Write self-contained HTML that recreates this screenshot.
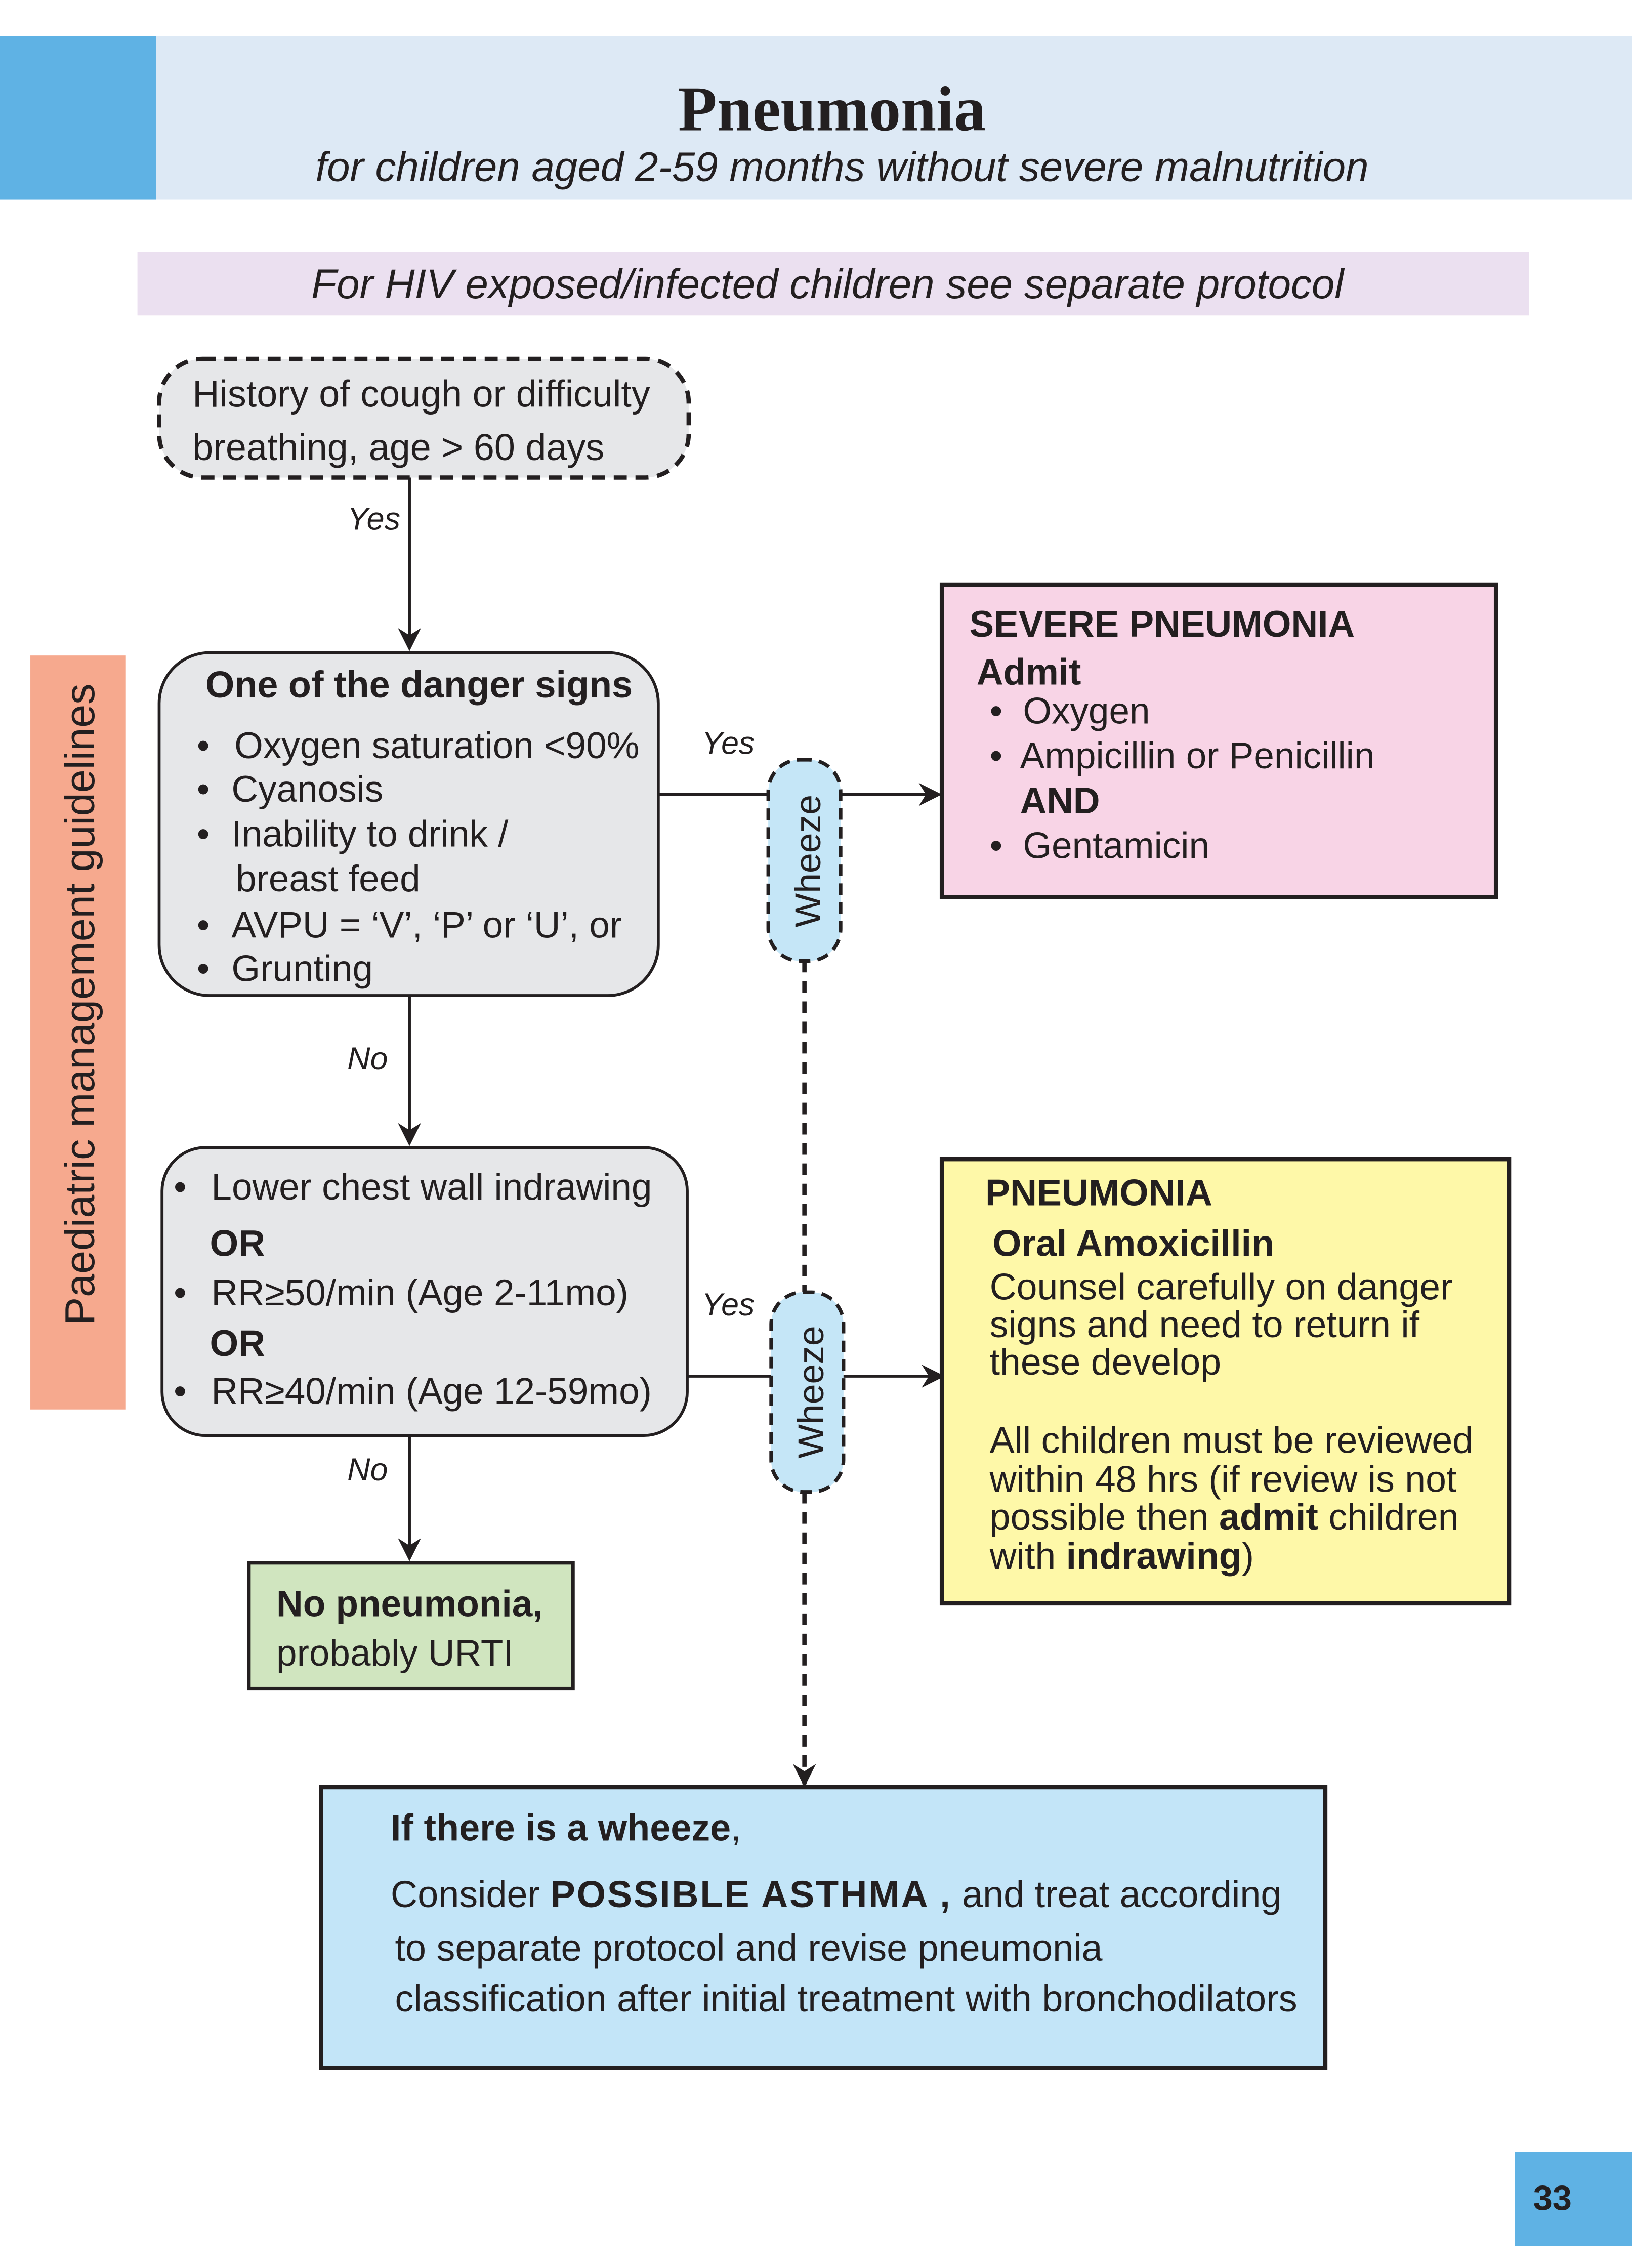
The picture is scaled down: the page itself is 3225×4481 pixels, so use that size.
<!DOCTYPE html>
<html><head><meta charset="utf-8"><style>
html,body{margin:0;padding:0;background:#fff}
svg{display:block}
text{font-family:"Liberation Sans",sans-serif;fill:#231f20}
.i{font-style:italic}
.b{font-weight:bold}
</style></head><body>
<svg width="3225" height="4481" viewBox="0 0 1128 1567.3" xmlns="http://www.w3.org/2000/svg">
<defs>
<marker id="a2" markerWidth="16" markerHeight="16" refX="14" refY="8" orient="auto" markerUnits="userSpaceOnUse"><path d="M0,0 L16,8 L0,16 L5,8 z" fill="#231f20"/></marker></defs>
<rect x="0" y="0" width="1128" height="1568" fill="#fff"/>
<rect x="0" y="25" width="1128" height="113" fill="#dde9f5"/>
<rect x="0" y="25" width="108" height="113" fill="#5fb2e4"/>
<text x="575" y="90" text-anchor="middle" font-size="44" class="b" style="font-family:'Liberation Serif',serif">Pneumonia</text>
<text x="582" y="125" text-anchor="middle" font-size="28.6" class="i">for children aged 2-59 months without severe malnutrition</text>
<rect x="95" y="174" width="962" height="44" fill="#ebe0f0"/>
<text x="572" y="206" text-anchor="middle" font-size="28.6" class="i">For HIV exposed/infected children see separate protocol</text>

<rect x="110" y="248" width="366" height="82" rx="30" fill="#e6e7e9" stroke="#231f20" stroke-width="3" stroke-dasharray="9,6"/>
<text x="133" y="281" font-size="25.8">History of cough or difficulty</text>
<text x="133" y="318" font-size="25.8">breathing, age &gt; 60 days</text>
<text x="240" y="366" font-size="22" class="i">Yes</text>
<line x1="283" y1="330" x2="283" y2="448" stroke="#231f20" stroke-width="2" marker-end="url(#a2)"/>

<rect x="110" y="451" width="345" height="237" rx="35" fill="#e6e7e9" stroke="#231f20" stroke-width="2"/>
<text x="142" y="482" font-size="25.8" class="b">One of the danger signs</text>
<g font-size="25.5">
<text x="136" y="524">•</text><text x="162" y="524">Oxygen saturation &lt;90%</text>
<text x="136" y="554">•</text><text x="160" y="554">Cyanosis</text>
<text x="136" y="585">•</text><text x="160" y="585">Inability to drink /</text>
<text x="163" y="616">breast feed</text>
<text x="136" y="648">•</text><text x="160" y="648">AVPU = ‘V’, ‘P’ or ‘U’,  or</text>
<text x="136" y="678">•</text><text x="160" y="678">Grunting</text>
</g>
<text x="485" y="521" font-size="22" class="i">Yes</text>
<line x1="455" y1="549" x2="649" y2="549" stroke="#231f20" stroke-width="2" marker-end="url(#a2)"/>
<line x1="556" y1="664" x2="556" y2="893" stroke="#231f20" stroke-width="3" stroke-dasharray="8,6"/>
<line x1="556" y1="1031" x2="556" y2="1233" stroke="#231f20" stroke-width="3" stroke-dasharray="8,6" marker-end="url(#a2)"/>
<rect x="531" y="525" width="50" height="139" rx="22" fill="#c5e6f7" stroke="#231f20" stroke-width="2.5" stroke-dasharray="8,5"/>
<text transform="translate(567,595) rotate(-90)" text-anchor="middle" font-size="25">Wheeze</text>

<rect x="651" y="404" width="383" height="216" fill="#f8d4e6" stroke="#231f20" stroke-width="3"/>
<text x="670" y="440" font-size="25.5" class="b">SEVERE PNEUMONIA</text>
<text x="675" y="473" font-size="25.5" class="b">Admit</text>
<g font-size="25.5">
<text x="684" y="500">•</text><text x="707" y="500">Oxygen</text>
<text x="684" y="531">•</text><text x="705" y="531">Ampicillin or Penicillin</text>
<text x="705" y="562" class="b">AND</text>
<text x="684" y="593">•</text><text x="707" y="593">Gentamicin</text>
</g>

<text x="240" y="739" font-size="22" class="i">No</text>
<line x1="283" y1="688" x2="283" y2="790" stroke="#231f20" stroke-width="2" marker-end="url(#a2)"/>
<rect x="112" y="793" width="363" height="199" rx="30" fill="#e6e7e9" stroke="#231f20" stroke-width="2"/>
<g font-size="25.5">
<text x="120" y="829">•</text><text x="146" y="829">Lower chest wall indrawing</text>
<text x="145" y="868" class="b">OR</text>
<text x="120" y="902">•</text><text x="146" y="902">RR≥50/min (Age 2-11mo)</text>
<text x="145" y="937" class="b">OR</text>
<text x="120" y="970">•</text><text x="146" y="970">RR≥40/min (Age 12-59mo)</text>
</g>
<text x="485" y="909" font-size="22" class="i">Yes</text>
<line x1="475" y1="951" x2="651" y2="951" stroke="#231f20" stroke-width="2" marker-end="url(#a2)"/>
<rect x="533" y="893" width="50" height="138" rx="22" fill="#c5e6f7" stroke="#231f20" stroke-width="2.5" stroke-dasharray="8,5"/>
<text transform="translate(569,962) rotate(-90)" text-anchor="middle" font-size="25">Wheeze</text>

<text x="240" y="1023" font-size="22" class="i">No</text>
<line x1="283" y1="992" x2="283" y2="1077" stroke="#231f20" stroke-width="2" marker-end="url(#a2)"/>
<rect x="172" y="1080" width="224" height="87" fill="#d0e5bf" stroke="#231f20" stroke-width="2.5"/>
<text x="191" y="1117" font-size="25.5" class="b">No pneumonia,</text>
<text x="191" y="1151" font-size="25.5">probably URTI</text>

<rect x="651" y="801" width="392" height="307" fill="#fef8a8" stroke="#231f20" stroke-width="3"/>
<g font-size="25.7">
<text x="681" y="833" class="b">PNEUMONIA</text>
<text x="686" y="868" class="b">Oral Amoxicillin</text>
<text x="684" y="898">Counsel carefully on danger</text>
<text x="684" y="924">signs and need to return if</text>
<text x="684" y="950">these develop</text>
<text x="684" y="1004">All children must be reviewed</text>
<text x="684" y="1031">within 48 hrs (if review is not</text>
<text x="684" y="1057">possible then <tspan class="b">admit</tspan> children</text>
<text x="684" y="1084">with <tspan class="b">indrawing</tspan>)</text>
</g>

<rect x="222" y="1235" width="694" height="194" fill="#c3e5f8" stroke="#231f20" stroke-width="3"/>
<g font-size="25.8">
<text x="270" y="1272"><tspan class="b">If there is a wheeze</tspan>,</text>
<text x="270" y="1318">Consider <tspan class="b" style="letter-spacing:1px">POSSIBLE ASTHMA ,</tspan> and treat according</text>
<text x="273" y="1355">to separate protocol and revise pneumonia</text>
<text x="273" y="1390">classification after initial treatment with bronchodilators</text>
</g>

<rect x="21" y="453" width="66" height="521" fill="#f6a98e"/>
<text transform="translate(65,694) rotate(-90)" text-anchor="middle" font-size="28.9">Paediatric management guidelines</text>

<rect x="1047" y="1487" width="81" height="65" fill="#5fb2e4"/>
<text x="1073" y="1527" text-anchor="middle" font-size="24" class="b">33</text>
</svg>
</body></html>
